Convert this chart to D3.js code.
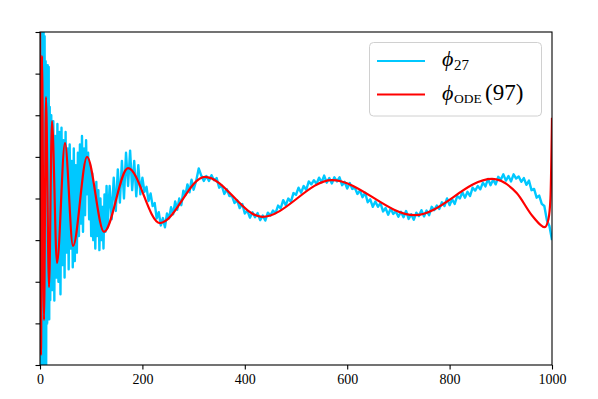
<!DOCTYPE html>
<html>
<head>
<meta charset="utf-8">
<script src="https://cdn.jsdelivr.net/npm/d3@7"></script>
<style>
  body { margin: 0; background: #fff; }
  svg { display: block; }
  .tick text { font-family: "Liberation Serif", "DejaVu Serif", serif; font-size: 14px; fill: #000; }
  .legend text { font-family: "Liberation Serif", "DejaVu Serif", serif; fill: #000; }
</style>
</head>
<body>
<svg id="chart" width="598" height="399"></svg>
<script>
// tick values
const xTicks = [0, 200, 400, 600, 800, 1000];
const yTicks = [-4, -3, -2, -1, 0, 1, 2, 3, 4];

// phi_ODE(97): turning points
const odeX = [0, 2, 3.9, 7.8, 11.7, 17.6, 23.4, 33.2, 48.8, 64.5, 91.8, 125, 171.9, 234, 322, 434, 570, 732, 883, 931, 963, 986, 993, 997, 1000];
const odeY = [4.6, -3.76, 3.43, -2.92, 2.44, -2.13, 1.86, -1.55, 1.33, -1.14, 1.0, -0.8, 0.73, -0.59, 0.52, -0.44, 0.44, -0.40, 0.47, 0.13, -0.44, -0.69, -0.5, 0.0, 1.94];

// phi_27: noisy series, [x, value]
const phi27 = [
  [0, 0.5], [1, 4.6], [2, -4.5], [3, 4.6], [4, -4.5], [5, 4.6], [6, -4.4], [7, 4.5], [8, -4.5], [9, 3.9],
  [10, -3.6], [11, 3.3], [12, -4.3], [13, 2.6], [14, -3.0], [15, 3.2], [16, -2.6], [17, 3.16], [18, -2.9], [19, 2.2],
  [20, -2.44], [22, 2.0], [24, -2.2], [26, 1.86], [28, -2.45], [30, 1.5], [32, -1.9], [34, 1.79], [36, -2.0], [38, 1.6],
  [40, -2.3], [42, 1.7], [44, -1.6], [46, 1.4], [48, -1.9], [50, 1.6], [52, -1.3], [54, 1.2], [56, -1.7], [58, 1.3],
  [60, -1.2], [62, 0.9], [64, -1.65], [66, 1.2], [68, -1.5], [70, 0.8], [72, -1.3], [74, 1.1], [76, -0.9], [78, 1.3],
  [80, -0.6], [82, 1.5], [84, -0.8], [86, 1.2], [88, -0.4], [90, 1.4], [92, 0.1], [94, 1.1], [96, -0.5], [98, 0.8],
  [100, -0.9], [102, 0.6], [104, -1.0], [106, 0.3], [108, -1.2], [110, 0.4], [112, -0.9], [114, 0.2], [116, -1.24], [118, 0.0],
  [120, -1.0], [122, -0.2], [124, -1.2], [126, 0.1], [128, -0.8], [130, 0.3],
  [132, -0.7], [136, 0.3], [140, -0.5], [144, 0.5], [148, -0.3], [152, 0.7], [156, -0.1], [160, 0.9], [164, 0.0], [168, 1.1],
  [172, 0.3], [176, 1.15], [180, 0.2], [184, 0.9], [188, 0.05], [192, 0.8], [196, 0.1],
  [200, 0.5], [204, 0.16], [208, 0.28], [212, -0.06], [216, 0.12], [220, -0.18], [224, -0.11], [228, -0.48], [232, -0.33], [236, -0.65],
  [240, -0.47], [244, -0.69], [248, -0.36], [252, -0.48], [256, -0.21], [260, -0.38], [264, -0.07], [268, -0.27], [272, 0.0], [276, -0.16],
  [280, 0.19], [284, 0.08], [288, 0.34], [292, 0.15], [296, 0.45], [300, 0.21],
  [305, 0.42], [310, 0.72], [315, 0.55], [320, 0.42], [325, 0.54], [330, 0.42], [335, 0.56], [340, 0.44], [345, 0.49], [350, 0.26],
  [355, 0.31], [360, 0.11], [365, 0.22], [370, 0.06], [375, 0.06], [380, -0.11], [385, -0.04], [390, -0.23], [395, -0.13], [400, -0.36],
  [405, -0.29], [410, -0.46], [415, -0.33], [420, -0.45], [425, -0.35], [430, -0.52], [435, -0.41], [440, -0.53], [445, -0.34], [450, -0.41],
  [455, -0.29], [460, -0.35], [465, -0.17], [470, -0.24], [475, -0.04], [480, -0.16], [485, 0.0], [490, -0.08], [495, 0.13], [500, 0.09],
  [505, 0.26], [510, 0.14], [515, 0.30], [520, 0.21], [525, 0.41], [530, 0.34], [535, 0.44], [540, 0.35], [545, 0.50], [550, 0.39],
  [555, 0.55], [560, 0.38], [565, 0.49], [570, 0.36], [575, 0.51], [580, 0.41], [585, 0.51], [590, 0.32], [595, 0.40], [600, 0.24],
  [605, 0.37], [610, 0.23], [615, 0.26], [620, 0.11], [625, 0.19], [630, 0.03], [635, 0.14], [640, -0.09], [645, -0.02], [650, -0.20],
  [655, -0.07], [660, -0.20], [665, -0.11], [670, -0.31], [675, -0.23], [680, -0.39], [685, -0.24], [690, -0.37], [695, -0.31], [700, -0.44],
  [705, -0.32], [710, -0.45], [715, -0.30], [720, -0.49], [725, -0.38], [730, -0.51], [735, -0.34], [740, -0.42], [745, -0.28], [750, -0.43],
  [755, -0.29], [760, -0.40], [765, -0.20], [770, -0.28], [775, -0.17], [780, -0.25], [785, -0.09], [790, -0.18], [795, 0.0], [800, -0.16],
  [805, -0.02], [810, -0.13], [815, 0.06], [820, 0.0], [825, 0.15], [830, 0.02], [835, 0.16], [840, 0.06], [845, 0.26], [850, 0.19],
  [855, 0.30], [860, 0.22], [865, 0.38], [870, 0.29], [875, 0.47], [880, 0.32], [885, 0.45], [890, 0.34], [895, 0.52], [900, 0.45],
  [905, 0.58], [910, 0.43], [915, 0.54], [920, 0.41], [925, 0.58], [930, 0.48], [935, 0.53], [940, 0.40], [945, 0.49], [950, 0.33],
  [955, 0.43], [960, 0.20], [965, 0.23], [970, 0.02], [975, 0.07], [980, -0.13], [985, -0.18], [990, -0.52], [995, -0.66], [1000, -1.0]
];

const width = 598;
const height = 399;
const margin = { top: 32, right: 46, bottom: 34, left: 40 };

const x = d3.scaleLinear().domain([0, 1000]).range([margin.left, width - margin.right]);
const y = d3.scaleLinear().domain([-4, 4]).range([height - margin.bottom, margin.top]);

const svg = d3.select("#chart");

svg.append("clipPath")
  .attr("id", "plot-clip")
  .append("rect")
  .attr("x", margin.left)
  .attr("y", margin.top)
  .attr("width", x(1000) - x(0))
  .attr("height", y(-4) - y(4));

const lines = svg.append("g").attr("clip-path", "url(#plot-clip)");

const line = d3.line()
  .x((d) => x(d[0]))
  .y((d) => y(d[1]));

lines.append("path")
  .datum(phi27)
  .attr("fill", "none")
  .attr("stroke", "#00c8ff")
  .attr("stroke-width", 2.4)
  .attr("stroke-linejoin", "round")
  .attr("d", line);

lines.append("path")
  .datum(odeX.map((v, i) => [v, odeY[i]]))
  .attr("fill", "none")
  .attr("stroke", "#ff0000")
  .attr("stroke-width", 2.2)
  .attr("d", line.curve(d3.curveMonotoneX));

// axes
const xAxis = (g) => g
  .attr("transform", `translate(0,${y(-4)})`)
  .call(d3.axisBottom(x).tickValues(xTicks).tickSize(4.5).tickPadding(5).tickFormat(d3.format("d")))
  .call((g) => g.select(".domain").remove())
  .call((g) => g.selectAll(".tick line").attr("stroke", "#000").attr("stroke-width", 1.1));

const yAxis = (g) => g
  .attr("transform", `translate(${x(0)},0)`)
  .call(d3.axisLeft(y).tickValues(yTicks).tickSize(4.5).tickFormat(""))
  .call((g) => g.select(".domain").remove())
  .call((g) => g.selectAll(".tick line").attr("stroke", "#000").attr("stroke-width", 1.1));

svg.append("g").call(xAxis);
svg.append("g").call(yAxis);

// frame
svg.append("rect")
  .attr("x", x(0))
  .attr("y", y(4))
  .attr("width", x(1000) - x(0))
  .attr("height", y(-4) - y(4))
  .attr("fill", "none")
  .attr("stroke", "#000")
  .attr("stroke-width", 1.1);

// legend
const legend = svg.append("g").attr("class", "legend");

legend.append("rect")
  .attr("x", 369.5)
  .attr("y", 42.5)
  .attr("width", 172)
  .attr("height", 73.5)
  .attr("rx", 4)
  .attr("fill", "#fff")
  .attr("fill-opacity", 0.8)
  .attr("stroke", "#d0d0d0")
  .attr("stroke-width", 1);

const entries = [
  { color: "#00c8ff", sub: "27", subSize: 15, tail: "", ly: 61 },
  { color: "#ff0000", sub: "ODE", subSize: 13.5, tail: "(97)", ly: 94.5 },
];

entries.forEach((e) => {
  legend.append("line")
    .attr("x1", 377).attr("x2", 425)
    .attr("y1", e.ly).attr("y2", e.ly)
    .attr("stroke", e.color)
    .attr("stroke-width", 2.2);
  const t = legend.append("text")
    .attr("y", e.ly + 5)
    .attr("font-size", 22);
  t.append("tspan").attr("x", 442).attr("font-style", "italic").text("\u03D5");
  t.append("tspan").attr("x", 454).attr("font-size", e.subSize).attr("dy", 3.5).text(e.sub);
  if (e.tail) t.append("tspan").attr("x", 485).attr("dy", -3.5).attr("font-size", 23).text(e.tail);
});
</script>
</body>
</html>
